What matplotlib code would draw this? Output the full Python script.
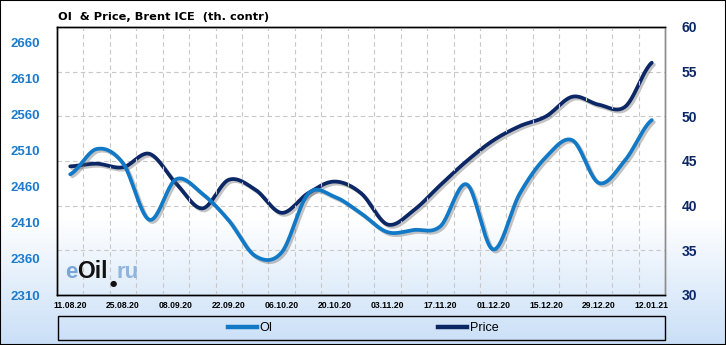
import numpy as np
import matplotlib

matplotlib.use("Agg")
import matplotlib.pyplot as plt
import matplotlib.patheffects as pe
from matplotlib.patches import Rectangle
from matplotlib.lines import Line2D

dates = ["11.08.20", "18.08.20", "25.08.20", "01.09.20", "08.09.20", "15.09.20",
         "22.09.20", "29.09.20", "06.10.20", "13.10.20", "20.10.20", "27.10.20",
         "03.11.20", "10.11.20", "17.11.20", "24.11.20", "01.12.20", "08.12.20",
         "15.12.20", "22.12.20", "29.12.20", "05.01.21", "12.01.21"]
oi = [2477, 2512, 2492, 2414, 2470, 2450, 2413, 2364, 2369, 2450, 2446, 2423,
      2397, 2400, 2405, 2463, 2373, 2450, 2501, 2524, 2465, 2497, 2552]
price = [44.4, 44.7, 44.3, 45.8, 42.5, 39.7, 42.9, 41.8, 39.2, 41.4, 42.7, 41.4,
         37.9, 39.5, 42.3, 45.0, 47.3, 48.9, 50.0, 52.2, 51.3, 51.1, 56.0]
oi_ticks = [2310, 2360, 2410, 2460, 2510, 2560, 2610, 2660]
price_ticks = [30, 35, 40, 45, 50, 55, 60]

W, H = 726, 345
OI_COLOR = "#1279c6"
PRICE_COLOR = "#0c2766"
FONT = "Liberation Sans"


def smooth(values, n=24):
    # catmull-rom, close to the excel "smoothed line"
    y = np.asarray(values, float)
    p = np.concatenate([[y[0]], y, [y[-1]]])
    t = np.linspace(0, 1, n, endpoint=False)
    xs, ys = [], []
    for i in range(len(y) - 1):
        p0, p1, p2, p3 = p[i:i + 4]
        ys.append(0.5 * (2 * p1 + (p2 - p0) * t + (2 * p0 - 5 * p1 + 4 * p2 - p3) * t ** 2
                         + (3 * p1 - p0 - 3 * p2 + p3) * t ** 3))
        xs.append(i + t)
    xs.append([len(y) - 1])
    ys.append([y[-1]])
    return np.concatenate(xs), np.concatenate(ys)


def fx(px):
    return px / W


def fy(px):
    return 1 - px / H


fig = plt.figure(figsize=(W / 100, H / 100), dpi=100)

# background gradient
bg = fig.add_axes([0, 0, 1, 1], zorder=-10)
f = np.linspace(0, 1, H)
k = np.clip((f - 0.63) / 0.37, 0, 1)[:, None]
top = np.array([1.0, 1.0, 1.0])
bottom = np.array([0.79, 0.875, 0.97])
grad = top * (1 - k) + bottom * k
bg.imshow(grad[:, None, :], aspect="auto", extent=[0, 1, 0, 1])
bg.axis("off")

ax = fig.add_axes([fx(57), fy(295), fx(665) - fx(57), fy(27) - fy(295)])
ax2 = ax.twinx()
ax.set_zorder(2)
ax2.set_zorder(1)
ax.patch.set_visible(False)
ax2.patch.set_visible(False)

shadow = [pe.SimpleLineShadow(offset=(1.5, -1.5), shadow_color="#555555", alpha=0.35), pe.Normal()]

x, y = smooth(price)
ax2.plot(x, y, color=PRICE_COLOR, lw=2.7, solid_capstyle="round", path_effects=shadow)
x, y = smooth(oi)
ax.plot(x, y, color=OI_COLOR, lw=2.7, solid_capstyle="round", path_effects=shadow)

n = len(dates)
ax.set_xlim(-0.5, n - 0.5)
ax.set_ylim(2310, 2680.8)
ax2.set_ylim(30, 60)
ax.set_yticks(oi_ticks)
ax2.set_yticks(price_ticks)
ax.set_xticks(range(0, n, 2), dates[::2])
ax.set_xticks(np.arange(0.5, n - 1, 1), minor=True)

ax2.grid(axis="y", color="#c8c8c8", lw=0.8, ls=(0, (4, 3)))
ax.grid(axis="x", which="minor", color="#c8c8c8", lw=0.8, ls=(0, (4, 3)))
ax.grid(axis="x", which="major", visible=False)

ax.tick_params(axis="y", length=0, pad=12, labelsize=9.5, labelcolor="#1c7bcc")
ax.tick_params(axis="x", which="both", length=0, pad=4, labelsize=6.2)
ax2.tick_params(axis="y", length=0, pad=12, labelsize=10, labelcolor=PRICE_COLOR)
for lab in ax.get_yticklabels() + ax2.get_yticklabels() + ax.get_xticklabels():
    lab.set_fontfamily(FONT)
    lab.set_fontweight("bold")

for a in (ax, ax2):
    for side in ("top", "left", "bottom"):
        a.spines[side].set_color("black")
        a.spines[side].set_linewidth(1.0)
    a.spines["right"].set_color("#8c8c8c")
    a.spines["right"].set_linewidth(1.0)

fig.text(fx(58), fy(19.5), "OI  & Price, Brent ICE  (th. contr)", fontsize=8.2,
         fontweight="bold", family="DejaVu Sans", va="baseline", ha="left")

# watermark
fig.text(fx(65), fy(278), "e", fontsize=16, fontweight="bold", family=FONT, color="#7aa6d6", va="baseline")
fig.text(fx(77), fy(278), "Oil", fontsize=16.5, fontweight="bold", family=FONT, color="#111111", va="baseline")
fig.text(fx(117), fy(278), "ru", fontsize=16, fontweight="bold", family=FONT, color="#8fb4de", va="baseline")
fig.text(fx(113), fy(286), "\u25cf", fontsize=6, family="DejaVu Sans", color="#111111", va="baseline", ha="center")

# legend box
fig.add_artist(Rectangle((fx(58), fy(340)), fx(665) - fx(58), fy(316) - fy(340),
                         transform=fig.transFigure, fill=False, edgecolor="black", lw=1.0))
handles = [Line2D([], [], color=OI_COLOR, lw=3.2), Line2D([], [], color=PRICE_COLOR, lw=3.2)]
fig.legend(handles, ["OI", "Price"], loc="center", bbox_to_anchor=(0.5, fy(328)), ncol=2,
           frameon=False, prop={"family": FONT, "size": 9}, handlelength=2.3,
           handletextpad=0.25, columnspacing=13.2)

fig.add_artist(Rectangle((0, 0), 1, 1, transform=fig.transFigure, fill=False,
                         edgecolor="black", lw=1.5))

fig.savefig("out.png", dpi=100)
